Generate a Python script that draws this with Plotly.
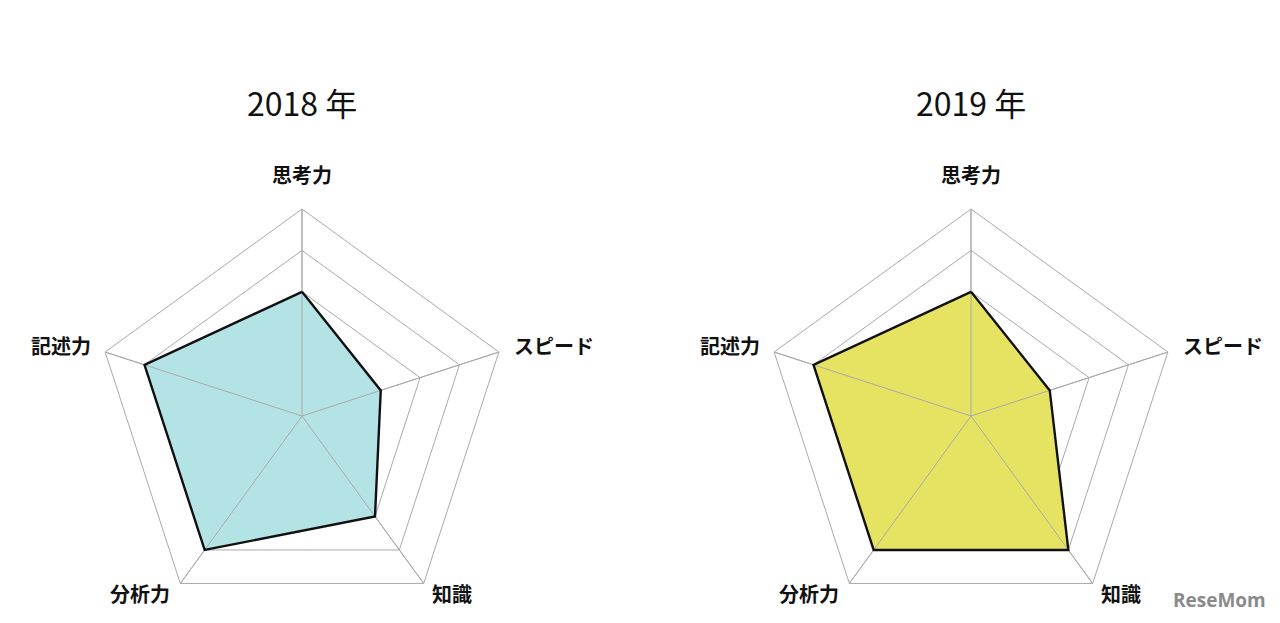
import plotly.graph_objects as go

categories = ["思考力", "スピード", "知識", "分析力", "記述力"]
values_2018 = [3, 2, 3, 4, 4]
values_2019 = [3, 2, 4, 4, 4]
titles = ["2018 年", "2019 年"]
ring_levels = [3, 4, 5]
r_max = 5

FONT = "Noto Sans CJK JP, Noto Sans, sans-serif"
OFF = 8  # browser body margin
W, H = 1280 - OFF, 623 - OFF
R = 207
CY = 416 - OFF
CX = [302 - OFF, 971 - OFF]

# category label placement relative to each chart centre (layout only)
label_dx = [0, 210, 128, -130, -209]
label_dy = [-241, -71, 177, 177, -71]
label_xanchor = ["center", "left", "left", "right", "right"]

fig = go.Figure()


def closed(seq):
    return list(seq) + [seq[0]]


fills = ["rgb(180,227,229)", "rgb(231,227,98)"]
series = [values_2018, values_2019]
subplots = ["polar", "polar2"]

# spokes drawn over the fill (as in the reference)
spoke_r, spoke_t = [], []
for c in categories:
    spoke_r += [0, r_max, None]
    spoke_t += [c, c, None]

for vals, fc, sp in zip(series, fills, subplots):
    fig.add_trace(go.Scatterpolar(
        r=closed(vals), theta=closed(categories), subplot=sp,
        mode="lines", fill="toself", fillcolor=fc,
        line=dict(color="rgba(0,0,0,0)", width=0), hoverinfo="skip", showlegend=False))
    fig.add_trace(go.Scatterpolar(
        r=spoke_r, theta=spoke_t, subplot=sp, mode="lines",
        line=dict(color="#aaaaaa", width=1), hoverinfo="skip", showlegend=False))
    fig.add_trace(go.Scatterpolar(
        r=closed(vals), theta=closed(categories), subplot=sp,
        mode="lines", line=dict(color="#111111", width=2.4),
        hoverinfo="skip", showlegend=False))

polar_common = dict(
    bgcolor="rgba(0,0,0,0)",
    gridshape="linear",
    radialaxis=dict(range=[0, r_max], tickvals=ring_levels, showticklabels=False,
                    ticks="", showline=False, gridcolor="#aaaaaa", gridwidth=1),
    angularaxis=dict(rotation=90, direction="clockwise", gridcolor="#aaaaaa",
                     linecolor="#aaaaaa", linewidth=1, ticks="", showticklabels=False),
)

annotations = []
for k, cx in enumerate(CX):
    annotations.append(dict(
        text=titles[k], x=cx / W, y=1 - (102 - OFF) / H, xref="paper", yref="paper",
        xanchor="center", yanchor="middle", showarrow=False,
        font=dict(family=FONT, size=32, color="#111111")))
    for name, dx, dy, xa in zip(categories, label_dx, label_dy, label_xanchor):
        annotations.append(dict(
            text=name, x=(cx + dx) / W, y=1 - (CY + dy) / H, xref="paper", yref="paper",
            xanchor=xa, yanchor="middle", showarrow=False,
            font=dict(family=FONT, size=20, color="#111111", weight="bold")))
annotations.append(dict(
    text="ReseMom", x=(1219 - OFF) / W, y=1 - (600 - OFF) / H, xref="paper", yref="paper",
    xanchor="center", yanchor="middle", showarrow=False,
    font=dict(family="Open Sans, sans-serif", size=19, color="#8a8a8a", weight="bold")))

y_dom = [0, (H - CY + R) / H]
fig.update_layout(
    width=W, height=H,
    margin=dict(l=0, r=0, t=0, b=0),
    paper_bgcolor="white", plot_bgcolor="white",
    polar=dict(domain=dict(x=[(CX[0] - R) / W, (CX[0] + R) / W], y=y_dom), **polar_common),
    polar2=dict(domain=dict(x=[(CX[1] - R) / W, (CX[1] + R) / W], y=y_dom), **polar_common),
    annotations=annotations,
)

fig.write_html("out.html")
